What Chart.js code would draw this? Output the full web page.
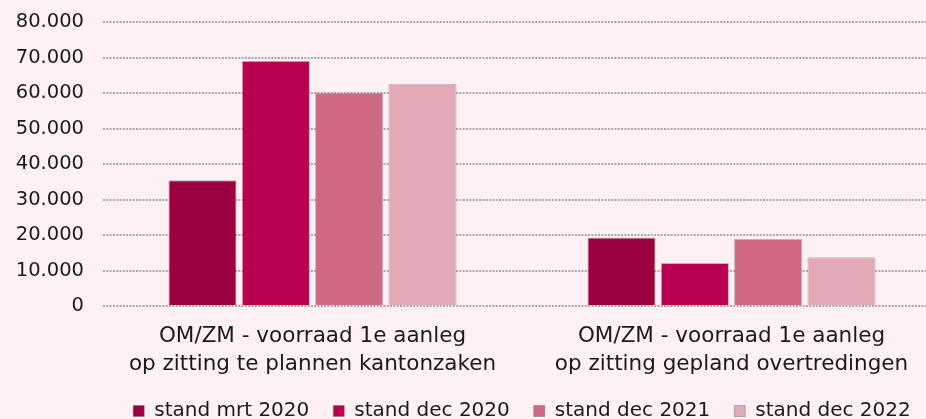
<!DOCTYPE html>
<html>
<head>
<meta charset="utf-8">
<script src="https://cdn.jsdelivr.net/npm/chart.js@4"></script>
<style>
  html, body { margin: 0; padding: 0; background: #FEF1F5; overflow: hidden; width: 926px; height: 419px; }
  #wrap { position: absolute; left: 0; top: 0; width: 941px; height: 431px; }
</style>
</head>
<body>
<div id="wrap"><canvas id="c" width="941" height="431"></canvas></div>
<script>
const categories = [
  ["OM/ZM - voorraad 1e aanleg", "op zitting te plannen kantonzaken"],
  ["OM/ZM - voorraad 1e aanleg", "op zitting gepland overtredingen"]
];
const seriesNames = ["stand mrt 2020", "stand dec 2020", "stand dec 2021", "stand dec 2022"];
const standMrt2020 = [35400, 19300];
const standDec2020 = [69100, 12100];
const standDec2021 = [60100, 18900];
const standDec2022 = [62600, 13700];
const colors = ["#9C0040", "#BC0050", "#CF6882", "#E1A9B5"];
const yMax = 80000;
const yStep = 10000;

function fmt(v) {
  return String(Math.round(v)).replace(/\B(?=(\d{3})+(?!\d))/g, ".");
}

const seriesValues = [standMrt2020, standDec2020, standDec2021, standDec2022];
const family = "'DejaVu Sans', Verdana, sans-serif";

new Chart(document.getElementById("c"), {
  type: "bar",
  data: {
    labels: categories,
    datasets: seriesValues.map((d, i) => ({
      label: seriesNames[i],
      data: d,
      backgroundColor: colors[i],
      borderColor: "rgba(110,110,110,0.45)",
      borderWidth: 1,
      barPercentage: 0.93,
      categoryPercentage: 0.70
    }))
  },
  options: {
    responsive: false,
    animation: false,
    layout: { padding: { top: 0, left: 0, right: 0, bottom: 0 } },
    plugins: {
      tooltip: { enabled: false },
      legend: {
        position: "bottom",
        fullSize: false,
        labels: {
          font: { family: family, size: 20 },
          color: "#1a1a1a",
          boxWidth: 11,
          boxHeight: 11,
          padding: 24
        }
      }
    },
    scales: {
      x: {
        afterFit: (s) => { s.height = 71; },
        grid: { display: false },
        border: { display: false },
        ticks: { font: { family: family, size: 21.5, lineHeight: 1.27 }, color: "#1a1a1a", padding: 9, maxRotation: 0 }
      },
      y: {
        min: 0,
        max: yMax,
        afterFit: (s) => { s.width = 103; s.paddingTop = 22; },
        border: { display: false, dash: [2, 1.3] },
        grid: { color: "#aba5a8", lineWidth: 2, drawTicks: false },
        ticks: { stepSize: yStep, font: { family: family, size: 19.5 }, color: "#1a1a1a", padding: 19, callback: (v) => fmt(v) }
      }
    }
  }
});
</script>
</body>
</html>
